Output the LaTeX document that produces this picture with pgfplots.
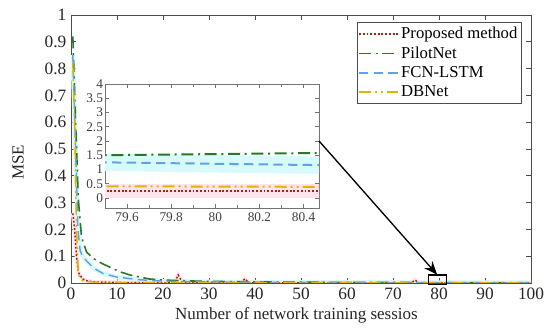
\documentclass[border=0pt]{standalone}
\usepackage{pgfplots}
\pgfplotsset{compat=1.18}
\usepackage{pgfplotstable}
\usepackage{fontspec}
\setmainfont{Liberation Serif}
\usetikzlibrary{arrows.meta}

\definecolor{cProp}{RGB}{165,35,20}
\definecolor{cPilot}{RGB}{40,120,40}
\definecolor{cFCN}{RGB}{100,160,230}
\definecolor{cDB}{RGB}{225,180,0}
\definecolor{haloC}{RGB}{215,250,250}
\definecolor{haloP}{RGB}{255,228,238}

\pgfplotstableread{
x y
0.4 0.26
0.8 0.20
1.2 0.10
1.6 0.04
2.5 0.015
3.5 0.008
5 0.004
10 0.002
20 0.001
22.5 0.001
23.3 0.030
24.2 0.002
30 0.001
37 0.001
37.8 0.016
38.6 0.001
60 0.0005
74 0.0005
74.8 0.011
75.6 0.0005
79 0.00025
81 0.00025
100 0.0002
}\tProp

\pgfplotstableread{
x y
0.4 0.92
1 0.60
1.6 0.31
2.3 0.17
3.4 0.115
5 0.09
6.7 0.073
10.6 0.042
12.8 0.030
17 0.015
20 0.011
25 0.008
30 0.006
40 0.004
50 0.003
60 0.0022
79 0.00146
81 0.00162
100 0.0015
}\tPilot

\pgfplotstableread{
x y
0.4 0.85
1 0.50
1.5 0.20
2 0.12
2.5 0.10
3.5 0.08
5 0.055
7 0.035
10 0.022
15 0.012
20 0.007
30 0.004
40 0.003
60 0.002
79 0.0013
81 0.0011
100 0.0008
}\tFCN

\pgfplotstableread{
x y
0.4 0.82
0.8 0.60
1.2 0.20
1.6 0.03
2.5 0.008
5 0.003
10 0.002
20 0.001
40 0.0006
60 0.0005
79 0.00042
81 0.00038
100 0.0004
}\tDB

\tikzset{
  sProp/.style={cProp, line width=1.1pt, dash pattern=on 1.4pt off 1.4pt},
  sPilot/.style={cPilot, line width=1.2pt, dash pattern=on 9pt off 3.5pt on 1.5pt off 3.5pt},
  sFCN/.style={cFCN, line width=1.1pt, dash pattern=on 7pt off 4pt},
  sDB/.style={cDB, line width=1.1pt, dash pattern=on 9pt off 3pt on 1.5pt off 3pt on 1.5pt off 3pt},
}

\begin{document}
\begin{tikzpicture}
\begin{axis}[
  name=main,
  width=345pt, height=201pt, scale only axis,
  xmin=0, xmax=100, ymin=0, ymax=1,
  xtick={0,10,20,30,40,50,60,70,80,90,100},
  ytick={0,0.1,0.2,0.3,0.4,0.5,0.6,0.7,0.8,0.9,1},
  yticklabels={0,0.1,0.2,0.3,0.4,0.5,0.6,0.7,0.8,0.9,1},
  tick align=inside, major tick length=4pt,
  axis line style={black!70, line width=0.6pt},
  tick style={black!70, line width=0.5pt},
  /pgf/number format/assume math mode=true,
  ticklabel style={font=\fontsize{13}{14}\selectfont, text=black!85},
  xlabel={Number of network training sessios},
  ylabel={MSE},
  label style={font=\fontsize{12.75}{14}\selectfont, text=black!85},
  xlabel style={at={(axis description cs:0.49,0)}, anchor=center, yshift=-24pt},
  ylabel style={at={(axis description cs:-0.115,0.45)}, anchor=center},
  legend style={at={(0.98,0.974)}, anchor=north east, draw=black!70, line width=0.6pt,
    font=\fontsize{12.5}{15}\selectfont, row sep=0.6pt, inner xsep=1pt, inner ysep=1.5pt},
  legend cell align=left,
  legend image code/.code={\draw[#1] (0pt,0pt) -- (29pt,0pt);},
]
\addplot[haloC, line width=3.5pt, forget plot] table {\tFCN};
\addplot[haloP, line width=3pt, forget plot] table {\tProp};
\addplot[sProp] table {\tProp};
\addlegendentry{Proposed method}
\addplot[sPilot] table {\tPilot};
\addlegendentry{PilotNet}
\addplot[sFCN] table {\tFCN};
\addlegendentry{FCN-LSTM}
\addplot[sDB] table {\tDB};
\addlegendentry{DBNet}
\coordinate (insetSW) at (axis cs:7.4,0.28);
\coordinate (boxA) at (axis cs:77.8,-0.007);
\coordinate (boxB) at (axis cs:81.6,0.03);
\coordinate (arrowEnd) at (axis cs:79.6,0.031);
\end{axis}

\begin{axis}[
  at={(insetSW)}, anchor=south west,
  width=160.5pt, height=93pt, scale only axis,
  xmin=79.5, xmax=80.47, ymin=-0.00035, ymax=0.004,
  axis background/.style={fill=white},
  xtick={79.6,79.8,80,80.2,80.4},
  xticklabels={79.6,79.8,80,80.2,80.4},
  minor x tick num=1,
  ytick={0,0.0005,0.001,0.0015,0.002,0.0025,0.003,0.0035,0.004},
  yticklabels={0,0.5,1,1.5,2,2.5,3,3.5,4},
  scaled y ticks=false,
  tick align=inside, major tick length=3pt, minor tick length=2pt,
  axis line style={black!55, line width=0.6pt},
  tick style={black!55, line width=0.4pt},
  /pgf/number format/assume math mode=true,
  ticklabel style={font=\fontsize{10}{11}\selectfont, text=black!75},
  yticklabel style={xshift=2pt},
  restrict x to domain=78.5:81.5,
]
\addplot[haloC, line width=13pt, forget plot] table {\tFCN};
\addplot[haloP, line width=11pt, forget plot] table {\tProp};
\addplot[sProp, line width=1.4pt] table {\tProp};
\addplot[sPilot, line width=1.5pt] table {\tPilot};
\addplot[sFCN, line width=1.5pt] table {\tFCN};
\addplot[sDB, line width=1.5pt] table {\tDB};
\node[anchor=south west, inner sep=0.5pt, font=\fontsize{10}{11}\selectfont, text=black!75]
  at (rel axis cs:0,1) {×10\textsuperscript{−3}};
\coordinate (arrowStart) at (axis cs:80.47,0.002);
\end{axis}

\draw[black, line width=0.9pt] (boxA) rectangle (boxB);
\draw[black, line width=1pt, -{Stealth[length=10pt,width=8pt]}] (arrowStart) -- (arrowEnd);

\path ([xshift=-53.25pt,yshift=-36pt]main.south west) rectangle ([xshift=14.25pt,yshift=11.25pt]main.north east);
\end{tikzpicture}
\end{document}
